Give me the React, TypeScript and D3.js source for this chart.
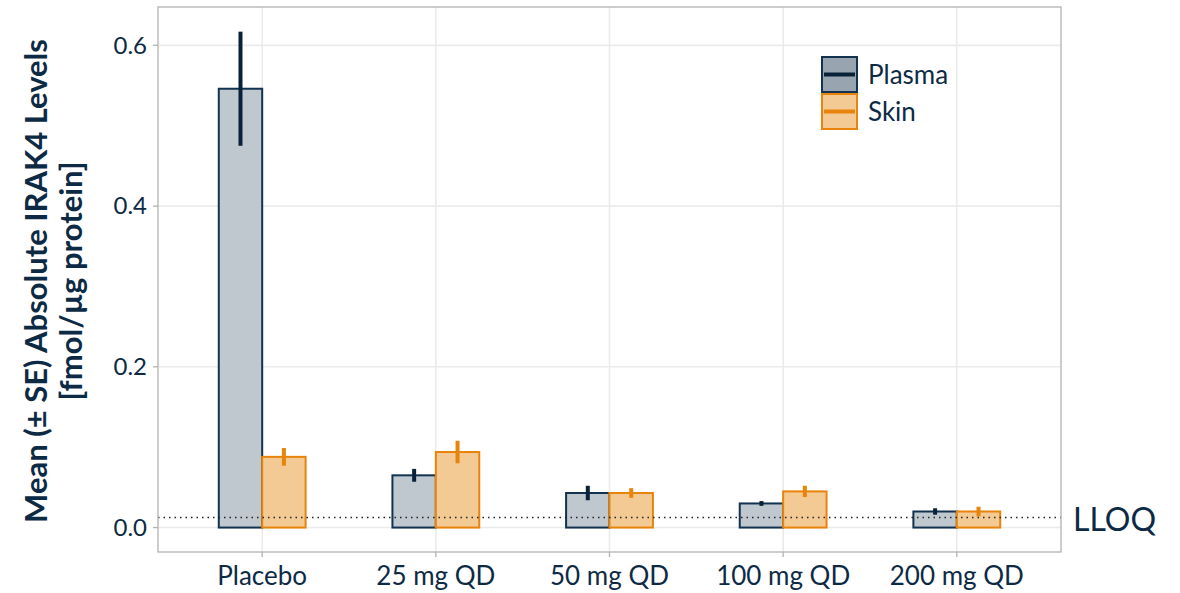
import React from "react";
import * as d3 from "d3";

const groups = ["Placebo", "25 mg QD", "50 mg QD", "100 mg QD", "200 mg QD"];
const seriesNames = ["Plasma", "Skin"];
const plasmaMean = [0.546, 0.065, 0.043, 0.03, 0.02];
const plasmaSE = [0.071, 0.008, 0.009, 0.003, 0.004];
const skinMean = [0.088, 0.094, 0.043, 0.045, 0.02];
const skinSE = [0.011, 0.014, 0.006, 0.007, 0.006];
const yTicks = [0, 0.2, 0.4, 0.6];
const lloq = 0.0125;

const W = 1180;
const H = 593;
const panel = { left: 158, right: 1061, top: 7, bottom: 552 };
const ink = "#0d2a45";
const styles = {
  Plasma: { fill: "#bfc7cf", stroke: "#123250", err: "#0a2239", key: "#98a4b0" },
  Skin: { fill: "#f3c994", stroke: "#e8830b", err: "#e8830b", key: "#f3c994" },
};
const font = "Lato, 'Open Sans', sans-serif";

export default function App() {
  const x = d3
    .scalePoint<string>()
    .domain(groups)
    .range([panel.left, panel.right])
    .padding(0.6);
  const step = x.step();
  const barW = step * 0.25;
  const y = d3.scaleLinear().domain([-0.0304, 0.6477]).range([panel.bottom, panel.top]);

  const series = [
    { name: "Plasma", mean: plasmaMean, se: plasmaSE, off: -1 },
    { name: "Skin", mean: skinMean, se: skinSE, off: 0 },
  ];

  return (
    <svg width={W} height={H} style={{ position: "absolute", left: 0, top: 0 }} fontFamily={font}>
      <rect width={W} height={H} fill="#fff" />
      {/* grid */}
      {yTicks.map((t) => (
        <line key={"gy" + t} x1={panel.left} x2={panel.right} y1={y(t)} y2={y(t)} stroke="#ebebeb" strokeWidth={1.6} />
      ))}
      {groups.map((g) => (
        <line key={"gx" + g} x1={x(g)} x2={x(g)} y1={panel.top} y2={panel.bottom} stroke="#ebebeb" strokeWidth={1.6} />
      ))}
      {/* bars */}
      {series.map((s) =>
        groups.map((g, i) => {
          const st = styles[s.name as "Plasma" | "Skin"];
          const x0 = (x(g) as number) + s.off * barW;
          return (
            <g key={s.name + g}>
              <rect
                x={x0}
                y={y(s.mean[i])}
                width={barW}
                height={y(0) - y(s.mean[i])}
                fill={st.fill}
                stroke={st.stroke}
                strokeWidth={2}
              />
              <line
                x1={x0 + barW / 2}
                x2={x0 + barW / 2}
                y1={y(s.mean[i] - s.se[i])}
                y2={y(s.mean[i] + s.se[i])}
                stroke={st.err}
                strokeWidth={4}
              />
            </g>
          );
        })
      )}
      {/* LLOQ */}
      <line x1={panel.left} x2={panel.right} y1={y(lloq)} y2={y(lloq)} stroke="#222" strokeWidth={1.4} strokeDasharray="1.5,4" />
      <text x={1073} y={y(lloq) + 13} fontSize={32} fill={ink}>
        LLOQ
      </text>
      {/* panel border */}
      <rect
        x={panel.left}
        y={panel.top}
        width={panel.right - panel.left}
        height={panel.bottom - panel.top}
        fill="none"
        stroke="#b3b3b3"
        strokeWidth={1.3}
      />
      {/* y axis */}
      {yTicks.map((t) => (
        <g key={"ty" + t}>
          <line x1={panel.left - 5} x2={panel.left} y1={y(t)} y2={y(t)} stroke="#b3b3b3" strokeWidth={1.3} />
          <text x={panel.left - 11} y={y(t)} dy="0.35em" textAnchor="end" fontSize={24} fill={ink}>
            {d3.format(".1f")(t)}
          </text>
        </g>
      ))}
      {/* x axis */}
      {groups.map((g) => (
        <g key={"tx" + g}>
          <line x1={x(g)} x2={x(g)} y1={panel.bottom} y2={panel.bottom + 5} stroke="#b3b3b3" strokeWidth={1.3} />
          <text x={x(g)} y={panel.bottom + 33} textAnchor="middle" fontSize={26} fill={ink}>
            {g}
          </text>
        </g>
      ))}
      {/* y title */}
      <g transform={`translate(47, ${281}) rotate(-90)`}>
        <text textAnchor="middle" fontSize={31} fontWeight="bold" fill={ink}>
          Mean (± SE) Absolute IRAK4 Levels
        </text>
        <text y={35} textAnchor="middle" fontSize={31} fontWeight="bold" fill={ink}>
          [fmol/µg protein]
        </text>
      </g>
      {/* legend */}
      {seriesNames.map((n, i) => {
        const st = styles[n as "Plasma" | "Skin"];
        const ky = 57 + i * 37;
        return (
          <g key={"lg" + n}>
            <rect x={822} y={ky} width={35} height={35} fill={st.key} stroke={st.stroke} strokeWidth={2} />
            <line x1={824} x2={855} y1={ky + 17.5} y2={ky + 17.5} stroke={st.err} strokeWidth={4} />
            <text x={868} y={ky + 17.5} dy="0.35em" fontSize={26} fill={ink}>
              {n}
            </text>
          </g>
        );
      })}
    </svg>
  );
}
